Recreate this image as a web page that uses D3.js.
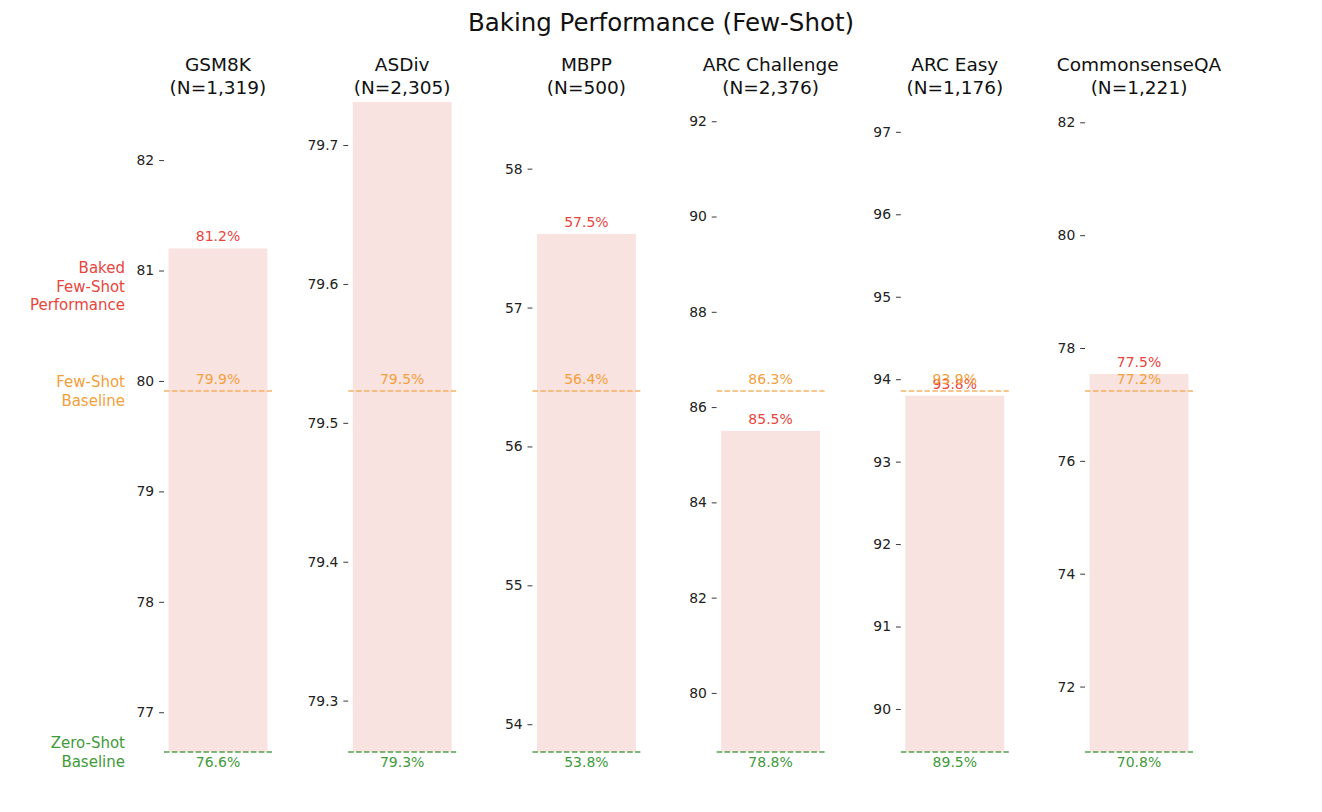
<!DOCTYPE html>
<html>
<head>
<meta charset="utf-8">
<script src="https://cdn.jsdelivr.net/npm/d3@7"></script>
<style>
  html, body { margin: 0; padding: 0; background: #fff; }
  svg { display: block; font-family: "DejaVu Sans", sans-serif; }
</style>
</head>
<body>
<svg id="chart" width="1322" height="812"></svg>
<script>
// ---- data ----
const datasets = ["GSM8K", "ASDiv", "MBPP", "ARC Challenge", "ARC Easy", "CommonsenseQA"];
const sampleSizes = [1319, 2305, 500, 2376, 1176, 1221];
const zeroShot = [76.64, 79.263, 53.80, 78.76, 89.478, 70.84];
const fewShot  = [79.91, 79.523, 56.40, 86.34, 93.858, 77.24];
const baked    = [81.20, 79.78, 57.53, 85.50, 93.80, 77.54];
const yTicks = [
  [77, 78, 79, 80, 81, 82],
  [79.3, 79.4, 79.5, 79.6, 79.7],
  [54, 55, 56, 57, 58],
  [80, 82, 84, 86, 88, 90, 92],
  [90, 91, 92, 93, 94, 95, 96, 97],
  [72, 74, 76, 78, 80, 82]
];
const tickFormats = ["d", ".1f", "d", "d", "d", "d"];
const titleText = "Baking Performance (Few-Shot)";
const legendLabels = {
  baked: ["Baked", "Few-Shot", "Performance"],
  few: ["Few-Shot", "Baseline"],
  zero: ["Zero-Shot", "Baseline"]
};

// ---- style ----
const RED = "#e8453c", ORANGE = "#f3a03c", GREEN = "#3f9a3a";
const BAR_FILL = "#f9e3e1";
const TOP = 102, BOTTOM = 752;
const HEADROOM = 1.8; // upper limit = zero + 1.8*(few - zero)

const svg = d3.select("#chart");
const fmtPct = d3.format(".1f");

const x = d3.scaleBand().domain(datasets).range([164, 1193]).paddingInner(0.414).paddingOuter(0);
const bw = x.bandwidth();
const barInset = bw * 0.042;

svg.append("text")
  .attr("x", 661).attr("y", 31)
  .attr("text-anchor", "middle")
  .attr("font-size", 24.5)
  .attr("fill", "#111")
  .text(titleText);

const defs = svg.append("defs");

datasets.forEach((name, i) => {
  const z = zeroShot[i], f = fewShot[i], b = baked[i];
  const y = d3.scaleLinear().domain([z, z + HEADROOM * (f - z)]).range([BOTTOM, TOP]);
  const x0 = x(name), cx = x0 + bw / 2;
  const g = svg.append("g");

  defs.append("clipPath").attr("id", "clip" + i)
    .append("rect").attr("x", x0 - 2).attr("y", TOP).attr("width", bw + 4).attr("height", BOTTOM - TOP);

  // panel title
  const t = g.append("text").attr("text-anchor", "middle").attr("font-size", 18.5).attr("fill", "#111");
  t.append("tspan").attr("x", cx).attr("y", 71).text(name);
  t.append("tspan").attr("x", cx).attr("y", 94).text("(N=" + d3.format(",")(sampleSizes[i]) + ")");

  // y axis
  const axis = d3.axisLeft(y).tickValues(yTicks[i]).tickFormat(d3.format(tickFormats[i]))
    .tickSize(4.9).tickPadding(4.9);
  const ag = g.append("g").attr("transform", `translate(${x0},0)`).call(axis);
  ag.select(".domain").remove();
  ag.selectAll("text").attr("font-size", 13.9).attr("fill", "#222").attr("font-family", "DejaVu Sans, sans-serif");
  ag.selectAll("line").attr("stroke", "#222").attr("stroke-width", 0.9);

  const clipped = g.append("g").attr("clip-path", `url(#clip${i})`);
  // bar
  clipped.append("rect")
    .attr("x", x0 + barInset).attr("width", bw - 2 * barInset)
    .attr("y", y(b)).attr("height", y(z) - y(b))
    .attr("fill", BAR_FILL);

  // baselines
  g.append("line").attr("x1", x0).attr("x2", x0 + bw).attr("y1", y(f)).attr("y2", y(f))
    .attr("stroke", ORANGE).attr("stroke-opacity", 0.8).attr("stroke-width", 1.5).attr("stroke-dasharray", "5.5,2.4");
  g.append("line").attr("x1", x0).attr("x2", x0 + bw).attr("y1", y(z)).attr("y2", y(z))
    .attr("stroke", GREEN).attr("stroke-opacity", 0.9).attr("stroke-width", 1.5).attr("stroke-dasharray", "5.5,2.4");

  // value labels
  g.append("text").attr("x", cx).attr("y", y(f) - 7).attr("text-anchor", "middle")
    .attr("font-size", 14).attr("fill", ORANGE).text(fmtPct(f) + "%");
  g.append("text").attr("x", cx).attr("y", y(z) + 15).attr("text-anchor", "middle")
    .attr("font-size", 14).attr("fill", GREEN).text(fmtPct(z) + "%");
  clipped.append("text").attr("x", cx).attr("y", y(b) - 7).attr("text-anchor", "middle")
    .attr("font-size", 14).attr("fill", RED).text(fmtPct(b) + "%");
});

// left-hand series labels (normalized coordinates)
const ny = d3.scaleLinear().domain([0, HEADROOM]).range([BOTTOM, TOP]);
const bakedNorm = d3.mean(datasets, (d, i) => (baked[i] - zeroShot[i]) / (fewShot[i] - zeroShot[i]));
function leftLabel(lines, yc, color) {
  const lh = 18.5;
  const t = svg.append("text").attr("text-anchor", "end").attr("font-size", 15).attr("fill", color);
  lines.forEach((s, k) => {
    t.append("tspan").attr("x", 125).attr("y", yc + (k - (lines.length - 1) / 2) * lh + 5.5).text(s);
  });
}
leftLabel(legendLabels.baked, ny(bakedNorm), RED);
leftLabel(legendLabels.few, ny(1), ORANGE);
leftLabel(legendLabels.zero, ny(0), GREEN);
</script>
</body>
</html>
